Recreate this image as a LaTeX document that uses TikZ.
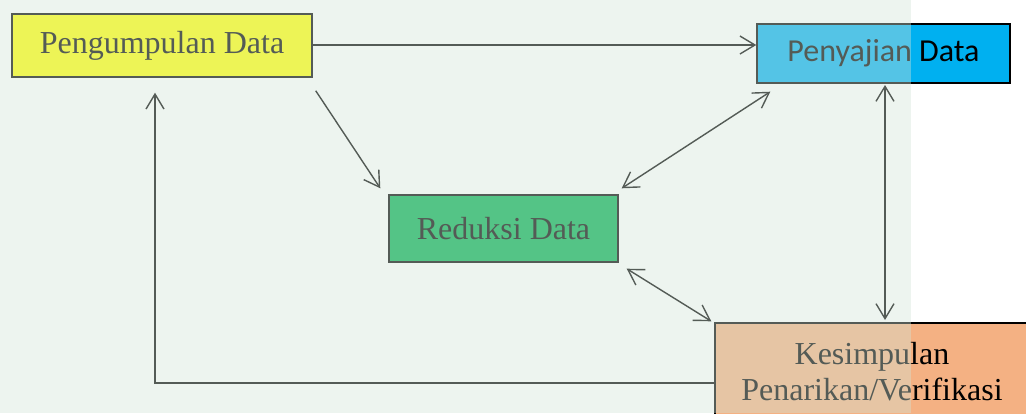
\documentclass[tikz,border=0pt]{standalone}
\usepackage{fontspec}
\setmainfont{Liberation Serif}
\newfontfamily\calibrifont{Carlito}
\usetikzlibrary{arrows.meta,calc}
\definecolor{pyellow}{RGB}{255,255,0}
\definecolor{pcyan}{RGB}{0,176,240}
\definecolor{pgreen}{RGB}{0,176,80}
\definecolor{porange}{RGB}{244,177,131}
\definecolor{wmark}{RGB}{210,228,215}
\tikzset{
  x=1pt, y=-1pt,
  box/.style={draw=black, line width=1.4pt, inner sep=0pt, align=center,
    font=\fontsize{32}{36}\selectfont},
  conn/.style={draw=black, line width=1.4pt,
    -{Straight Barb[length=15pt,width=18pt,line width=1.4pt]}},
  dconn/.style={conn, {Straight Barb[length=15pt,width=18pt,line width=1.4pt]}-{Straight Barb[length=15pt,width=18pt,line width=1.4pt]}},
}
\begin{document}
\begin{tikzpicture}
\useasboundingbox (0,0) rectangle (1026,413);
\fill[white] (0,0) rectangle (1026,413);
\begin{scope}
\clip (0,0) rectangle (1026,413);
\node[box, fill=pyellow, minimum width=300pt, minimum height=63pt] (P1) at (162,45.5) {Pengumpulan Data};
\node[box, fill=pcyan, minimum width=253pt, minimum height=59pt, font=\calibrifont\fontsize{32}{36}\selectfont] (P2) at (883.5,53.5) {Penyajian Data};
\node[box, fill=pgreen, minimum width=229pt, minimum height=67pt] (R) at (503.5,228.5) {Reduksi Data};
\node[box, fill=porange, minimum width=314pt, minimum height=98pt] (K) at (872,372) {Kesimpulan\\Penarikan/Verifikasi};

\coordinate (a1) at ($(P1.south east)+(3,13)$);
\coordinate (a2) at ($(R.north west)+(-8,-6)$);
\coordinate (b1) at ($(P2.south west)+(14,8)$);
\coordinate (b2) at ($(R.north east)+(3,-6)$);
\coordinate (c1) at ($(R.south east)+(8,6)$);
\coordinate (c2) at ($(K.north west)+(-3,-1)$);
\coordinate (d1) at (885,85);
\coordinate (d2) at (885,320);
\coordinate (e1) at (155,383);
\coordinate (e2) at ($(P1.south)+(-7,15)$);

\draw[conn] (P1.east |- 0,45) -- (P2.west |- 0,45);
\draw[conn] (a1) -- (a2);
\draw[dconn] (b1) -- (b2);
\draw[dconn] (d1) -- (d2);
\draw[dconn] (c1) -- (c2);
\draw[conn] (K.west |- e1) -- (e1) -- (e2);

% faint watermark tint over the left part of the page
\fill[wmark, fill opacity=0.4] (0,0) rectangle (911,413);
\end{scope}
\end{tikzpicture}
\end{document}
